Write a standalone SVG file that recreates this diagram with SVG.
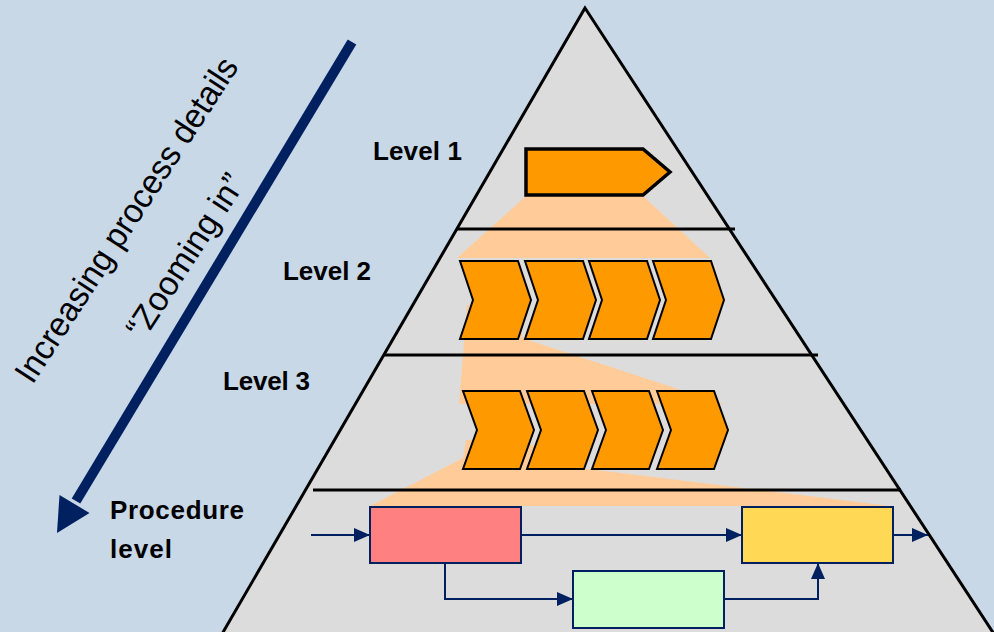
<svg xmlns="http://www.w3.org/2000/svg" width="994" height="632" viewBox="0 0 994 632">
<style>
.lbl{font-family:"Liberation Sans",Arial,sans-serif;font-weight:bold;font-size:26px;fill:#000}
.rot{font-family:"Liberation Sans",Arial,sans-serif;font-size:34px;fill:#000}
.chev{fill:#FF9900;stroke:#000;stroke-width:2;stroke-linejoin:miter}
.funnel{fill:#FFCC99}
.sep{stroke:#000;stroke-width:3}
.box{stroke:#002060;stroke-width:2}
.conn{fill:none;stroke:#002060;stroke-width:2}
</style>
<defs>
<path id="chev" d="M0,0 L58,0 L71,39 L58,78 L0,78 L13,39 Z"/>
<path id="chev3" d="M0,0 L57,0 L71,39 L57,78 L0,78 L14,39 Z"/>
<marker id="ah" markerUnits="userSpaceOnUse" markerWidth="16" markerHeight="14" refX="16" refY="7" orient="auto">
<path d="M0,0 L16,7 L0,14 Z" fill="#002060"/>
</marker>
</defs>
<rect x="0" y="0" width="994" height="632" fill="#C8D8E7"/>
<g id="pyramid">
<polygon points="585,8 222,634 994,634" fill="#DCDCDC" stroke="#000" stroke-width="3" stroke-linejoin="miter"/>
</g>
<g id="funnels">
<polygon class="funnel" points="526,196 643,196 710,258 457,258"/>
<polygon class="funnel" points="467,305 520,305 522,338 724,404 459,404"/>
<polygon class="funnel" points="466,440 522,440 580,468 890,506 370,506 463,458"/>
</g>
<g id="separators">
<line class="sep" x1="457" y1="229" x2="735" y2="229"/>
<line class="sep" x1="383" y1="355" x2="818" y2="355"/>
<line class="sep" x1="313" y1="490" x2="901" y2="490"/>
</g>
<g id="level1">
<polygon points="526,149 643,149 670,172 643,195 526,195" fill="#FF9900" stroke="#000" stroke-width="3.5"/>
<text class="lbl" x="373" y="160" textLength="89">Level 1</text>
</g>
<g id="level2">
<use href="#chev" class="chev" x="460" y="261"/>
<use href="#chev" class="chev" x="525" y="261"/>
<use href="#chev" class="chev" x="589" y="261"/>
<use href="#chev" class="chev" x="653" y="261"/>
<text class="lbl" x="283" y="280" textLength="88">Level 2</text>
</g>
<g id="level3">
<use href="#chev3" class="chev" x="463" y="391"/>
<use href="#chev3" class="chev" x="527" y="391"/>
<use href="#chev3" class="chev" x="592" y="391"/>
<use href="#chev3" class="chev" x="657" y="391"/>
<text class="lbl" x="223" y="390" textLength="87">Level 3</text>
</g>
<g id="procedure-label">
<text class="lbl" x="110" y="519" textLength="134">Procedure</text>
<text class="lbl" x="110" y="558" textLength="62">level</text>
</g>
<g id="box-red"><rect class="box" x="370" y="507" width="151" height="56" fill="#FF8080"/></g>
<g id="box-yellow"><rect class="box" x="742" y="507" width="151" height="56" fill="#FFD955"/></g>
<g id="box-green"><rect class="box" x="573" y="571" width="151" height="57" fill="#CCFFCC"/></g>
<g id="connectors">
<polyline class="conn" points="311,535 370,535" marker-end="url(#ah)"/>
<polyline class="conn" points="522,535 742,535" marker-end="url(#ah)"/>
<polyline class="conn" points="894,535 928,535" marker-end="url(#ah)"/>
<polyline class="conn" points="445,563 445,599 573,599" marker-end="url(#ah)"/>
<polyline class="conn" points="724,599 818,599 818,563" marker-end="url(#ah)"/>
</g>
<g id="zoom-arrow">
<line x1="352" y1="42" x2="76" y2="501" stroke="#002060" stroke-width="10"/>
<polygon points="57,533 59.5,495 89.5,513" fill="#002060"/>
<text class="rot" transform="translate(136,226) rotate(-57)" text-anchor="middle" textLength="380" lengthAdjust="spacingAndGlyphs">Increasing process details</text>
<text class="rot" transform="translate(195,262) rotate(-57)" text-anchor="middle" textLength="188" lengthAdjust="spacingAndGlyphs">“Zooming in”</text>
</g>
</svg>
